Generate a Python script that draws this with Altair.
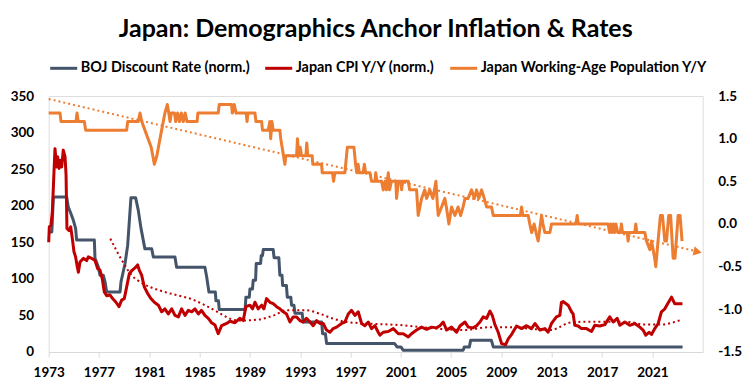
import altair as alt
import pandas as pd

TITLE = "Japan: Demographics Anchor Inflation & Rates"
NAMES = ["BOJ Discount Rate (norm.)", "Japan CPI Y/Y (norm.)", "Japan Working-Age Population Y/Y"]
COLORS = ["#44546A", "#C00000", "#ED7D31"]

x_ticks = [1973, 1977, 1981, 1985, 1989, 1993, 1997, 2001, 2005, 2009, 2013, 2017, 2021]
left_ticks = [0, 50, 100, 150, 200, 250, 300, 350]
right_ticks = [-1.5, -1.0, -0.5, 0.0, 0.5, 1.0, 1.5]

# BOJ discount rate (normalized, left axis)
boj_year = [1973.0, 1973.25, 1973.37, 1974.43, 1974.56, 1974.77, 1974.96, 1975.14, 1975.22, 1976.63,
            1976.68, 1976.95, 1977.08, 1977.34, 1977.48, 1977.61, 1978.67, 1978.75, 1979.07, 1979.28,
            1979.54, 1979.91, 1980.12, 1980.34, 1980.65, 1981.19, 1981.32, 1983.04, 1983.17, 1985.42,
            1985.56, 1985.74, 1986.25, 1986.3, 1986.5, 1986.56, 1988.62, 1988.68, 1988.95, 1989.0,
            1989.2, 1989.26, 1989.45, 1989.5, 1989.85, 1989.9, 1990.0, 1990.06, 1990.85, 1990.92,
            1991.3, 1991.38, 1991.55, 1991.6, 1991.9, 1991.97, 1992.25, 1992.31, 1992.5, 1992.58,
            1993.15, 1993.24, 1994.7, 1994.78, 1995.0, 1995.1, 2000.5, 2000.7, 2001.0, 2001.2,
            2005.95, 2006.05, 2006.45, 2006.55, 2008.2, 2008.35, 2023.4]
boj_val = [164, 164, 212, 212, 198, 189, 180, 169, 153, 153,
           128, 116, 105, 105, 96, 82, 82, 96, 121, 146,
           211, 211, 194, 169, 141, 141, 130, 130, 116, 116,
           103, 82, 82, 70, 70, 58, 58, 75, 75, 86,
           86, 98, 98, 121, 121, 132, 132, 140, 140, 129,
           129, 105, 105, 91, 91, 75, 75, 64, 64, 53,
           53, 41, 41, 25, 25, 11.5, 11.5, 7, 7, 2.3,
           2.3, 7, 7, 16, 16, 7, 7]

# Japan CPI Y/Y (normalized, left axis)
cpi_year = [1973.0, 1973.05, 1973.18, 1973.29, 1973.42, 1973.5, 1973.63, 1973.71, 1973.82, 1973.95,
            1974.03, 1974.16, 1974.3, 1974.38, 1974.45, 1974.61, 1974.75, 1974.88, 1975.01, 1975.14,
            1975.28, 1975.36, 1975.49, 1975.75, 1976.02, 1976.15, 1976.42, 1976.68, 1976.89, 1977.08,
            1977.26, 1977.42, 1977.61, 1977.87, 1978.08, 1978.35, 1978.59, 1978.8, 1979.01, 1979.2,
            1979.41, 1979.65, 1979.86, 1980.07, 1980.2, 1980.39, 1980.6, 1980.87, 1981.13, 1981.4,
            1981.72, 1981.98, 1982.24, 1982.51, 1982.78, 1983.04, 1983.31, 1983.57, 1983.84, 1984.1,
            1984.37, 1984.63, 1984.9, 1985.15, 1985.42, 1985.69, 1985.95, 1986.22, 1986.48, 1986.75,
            1987.15, 1987.41, 1987.81, 1988.2, 1988.47, 1988.68, 1989.0, 1989.21, 1989.4, 1989.66,
            1989.93, 1990.11, 1990.32, 1990.59, 1990.85, 1991.12, 1991.38, 1991.65, 1991.91, 1992.18,
            1992.44, 1992.71, 1992.97, 1993.24, 1993.5, 1993.77, 1994.03, 1994.3, 1994.56, 1994.83,
            1995.09, 1995.36, 1995.62, 1995.89, 1996.29, 1996.55, 1996.82, 1997.08, 1997.35, 1997.61,
            1997.88, 1998.14, 1998.41, 1998.67, 1998.94, 1999.2, 1999.34, 1999.6, 2000.0, 2000.4,
            2000.8, 2001.19, 2001.59, 2001.85, 2002.25, 2002.65, 2003.05, 2003.44, 2003.84, 2004.11,
            2004.37, 2004.64, 2005.03, 2005.43, 2005.7, 2006.1, 2006.36, 2006.76, 2007.02, 2007.29,
            2007.55, 2007.82, 2008.08, 2008.27, 2008.48, 2008.74, 2009.01, 2009.33, 2009.54, 2009.8,
            2010.2, 2010.6, 2011.0, 2011.39, 2011.66, 2012.06, 2012.45, 2012.71, 2012.98, 2013.37,
            2013.64, 2013.77, 2013.9, 2014.3, 2014.57, 2014.7, 2014.83, 2015.1, 2015.36, 2015.76,
            2016.16, 2016.42, 2016.82, 2017.22, 2017.61, 2017.88, 2018.2, 2018.41, 2018.81, 2019.2,
            2019.6, 2020.0, 2020.26, 2020.48, 2020.74, 2020.93, 2021.19, 2021.46, 2021.72, 2021.99,
            2022.25, 2022.52, 2022.78, 2023.05, 2023.39]
cpi_val = [150, 171, 173, 192, 246, 278, 253, 267, 251, 262,
           253, 276, 267, 242, 169, 166, 171, 155, 137, 130,
           116, 109, 123, 128, 125, 130, 128, 125, 114, 112,
           100, 82, 77, 78, 73, 68, 62, 71, 73, 89,
           107, 112, 115, 119, 112, 105, 89, 80, 73, 68,
           64, 55, 59, 52, 59, 50, 48, 59, 50, 57,
           55, 59, 52, 57, 50, 46, 40, 37, 25, 36,
           39, 42, 40, 46, 43, 62, 64, 59, 68, 59,
           64, 59, 73, 68, 66, 62, 59, 55, 52, 41,
           48, 48, 43, 41, 46, 41, 36, 43, 39, 39,
           30, 27, 32, 34, 39, 41, 52, 57, 50, 55,
           39, 36, 41, 32, 36, 27, 23, 27, 28, 32,
           25, 25, 20.6, 25, 30, 34, 31, 34, 33, 36,
           41, 30, 34, 27, 35.5, 41, 34, 33, 36, 41,
           48, 46, 56, 50, 37.5, 27, 11.4, 10, 18, 23.8,
           35.6, 32, 36, 32, 39, 30, 32, 27, 39, 48,
           50, 68, 69, 64, 55, 52, 36.5, 35.5, 32, 32,
           28, 36.5, 35.5, 37.5, 48, 41, 46, 36.5, 41, 36.5,
           39, 34, 30, 23, 27, 24, 32, 39, 55, 59,
           67, 75, 66, 66, 66]

# CPI moving-average trend (dotted, left axis)
cpi_trend_year = [1977.9, 1978.9, 1979.6, 1980.5, 1981.85, 1983.2, 1984.4, 1985.3, 1986.4, 1987.4,
                  1988.2, 1989.5, 1990.9, 1991.9, 1993.5, 1994.6, 1995.6, 1996.7, 1998.3, 2001.2,
                  2003.8, 2006.0, 2008.1, 2009.7, 2011.8, 2013.0, 2013.6, 2014.4, 2015.8, 2019.2,
                  2020.3, 2021.6, 2023.3]
cpi_trend_val = [155, 123, 105, 93.5, 84, 77.6, 72, 65, 55, 45.6,
                 43, 44, 50, 57, 57, 52, 45.6, 41, 39, 36.5,
                 32, 30, 34, 34, 31, 30, 34, 40, 41.5, 41,
                 37.5, 37.5, 44]

# Working-age population Y/Y (right axis)
pop_year = [1973.0, 1973.9, 1973.98, 1975.17, 1975.25, 1975.35, 1975.83, 1975.94, 1979.2, 1979.28,
            1980.12, 1980.26, 1980.4, 1980.65, 1980.9, 1981.15, 1981.4, 1981.6, 1981.85, 1981.98,
            1982.24, 1982.43, 1982.55, 1982.65, 1982.75, 1983.0, 1983.1, 1983.25, 1983.4, 1983.55,
            1983.7, 1983.85, 1984.0, 1984.8, 1984.86, 1986.48, 1986.56, 1987.54, 1987.6, 1987.75,
            1987.9, 1988.7, 1988.77, 1988.84, 1989.4, 1989.48, 1989.93, 1990.0, 1990.46, 1990.58,
            1990.65, 1990.75, 1990.85, 1991.38, 1991.45, 1991.78, 1991.85, 1992.71, 1992.78, 1992.88,
            1993.0, 1993.1, 1993.45, 1993.52, 1993.6, 1993.95, 1994.0, 1994.7, 1994.75, 1995.57,
            1995.65, 1995.75, 1996.55, 1996.68, 1996.75, 1997.27, 1997.4, 1997.5, 1997.6, 1997.7,
            1998.0, 1998.1, 1998.2, 1998.54, 1998.67, 1998.95, 1999.0, 1999.1, 1999.47, 1999.6,
            1999.75, 1999.85, 2000.0, 2000.1, 2000.25, 2000.6, 2000.66, 2000.8, 2001.0, 2001.06,
            2001.15, 2001.59, 2001.7, 2002.25, 2002.38, 2002.65, 2002.9, 2003.05, 2003.3, 2003.55,
            2003.79, 2003.87, 2003.97, 2004.24, 2004.5, 2004.62, 2004.82, 2005.03, 2005.3, 2005.55,
            2005.75, 2005.95, 2006.1, 2006.35, 2006.62, 2006.85, 2007.02, 2007.2, 2007.42, 2007.63,
            2007.82, 2008.21, 2008.35, 2010.5, 2010.6, 2010.7, 2011.13, 2011.25, 2011.4, 2011.6,
            2011.75, 2011.92, 2012.19, 2012.3, 2012.45, 2012.85, 2012.98, 2014.92, 2015.02, 2015.1,
            2017.48, 2017.6, 2017.7, 2017.8, 2017.9, 2018.0, 2018.1, 2018.25, 2018.45, 2018.54,
            2018.62, 2019.0, 2019.07, 2019.15, 2019.6, 2019.68, 2019.76, 2020.4, 2020.53, 2020.8,
            2020.93, 2021.06, 2021.18, 2021.27, 2021.45, 2021.64, 2021.8, 2021.99, 2022.12, 2022.3,
            2022.45, 2022.65, 2022.8, 2023.05, 2023.2, 2023.36]
pop_val = [1.3, 1.3, 1.2, 1.2, 1.3, 1.2, 1.2, 1.1, 1.1, 1.2,
           1.2, 1.3, 1.2, 1.1, 1.0, 0.9, 0.7, 0.8, 1.0, 1.1,
           1.3, 1.4, 1.3, 1.2, 1.3, 1.3, 1.2, 1.3, 1.2, 1.3,
           1.2, 1.3, 1.2, 1.2, 1.3, 1.3, 1.4, 1.4, 1.3, 1.4,
           1.3, 1.3, 1.2, 1.3, 1.3, 1.2, 1.2, 1.1, 1.1, 1.2,
           1.0, 1.2, 1.1, 1.1, 1.0, 0.7, 0.8, 0.8, 1.0, 0.8,
           0.9, 0.8, 0.8, 0.95, 0.8, 0.8, 0.7, 0.7, 0.6, 0.6,
           0.5, 0.6, 0.6, 0.8, 0.9, 0.9, 0.7, 0.6, 0.7, 0.6,
           0.6, 0.7, 0.6, 0.6, 0.5, 0.5, 0.6, 0.5, 0.5, 0.4,
           0.5, 0.4, 0.6, 0.4, 0.5, 0.5, 0.3, 0.5, 0.5, 0.4,
           0.5, 0.5, 0.4, 0.4, 0.1, 0.3, 0.4, 0.3, 0.4, 0.3,
           0.5, 0.3, 0.1, 0.2, 0.3, 0.2, 0.0, 0.2, 0.1, 0.2,
           0.1, 0.2, 0.3, 0.3, 0.4, 0.3, 0.4, 0.3, 0.4, 0.3,
           0.2, 0.2, 0.1, 0.1, 0.2, 0.1, 0.1, 0.0, -0.1, 0.0,
           -0.1, -0.2, 0.1, 0.0, -0.1, -0.1, 0.0, 0.0, 0.1, 0.0,
           0.0, -0.1, 0.0, -0.1, 0.0, -0.1, 0.0, -0.1, -0.1, 0.0,
           -0.1, -0.1, -0.2, -0.1, -0.1, 0.0, -0.1, -0.1, -0.2, -0.3,
           -0.2, -0.3, -0.4, -0.5, -0.2, 0.1, 0.1, -0.2, -0.2, 0.1,
           0.1, -0.4, -0.4, 0.1, 0.1, -0.2]

# Linear trend of the population series (dotted, right axis) and its arrow head
pop_trend_year = [1973.0, 2024.5]
pop_trend_val = [1.465, -0.32]
arrow_year = [2024.6]
arrow_val = [-0.325]

boj_df = pd.DataFrame({"year": boj_year, "value": boj_val, "series": NAMES[0]})
cpi_df = pd.DataFrame({"year": cpi_year, "value": cpi_val, "series": NAMES[1]})
cpi_tr_df = pd.DataFrame({"year": cpi_trend_year, "value": cpi_trend_val})
pop_df = pd.DataFrame({"year": pop_year, "value": pop_val, "series": NAMES[2]})
pop_tr_df = pd.DataFrame({"year": pop_trend_year, "value": pop_trend_val})
arrow_df = pd.DataFrame({"year": arrow_year, "value": arrow_val})

FONT = "Lato"
x_enc = alt.X("year:Q", scale=alt.Scale(domain=[1973, 2025], nice=False, zero=False),
              axis=alt.Axis(values=x_ticks, format="d", title=None, grid=False,
                            domainColor="#D9D9D9", tickColor="#D9D9D9", tickSize=5,
                            labelFont=FONT, labelFontWeight="bold", labelFontSize=13.5,
                            labelColor="black", labelPadding=9, labelFlush=False))

left_scale = alt.Scale(domain=[0, 350], nice=False, zero=False)
right_scale = alt.Scale(domain=[-1.5, 1.5], nice=False, zero=False)

left_axis = alt.Axis(values=left_ticks, title=None, grid=False, domain=False, ticks=False,
                     tickSize=0, labelPadding=15, labelFont=FONT, labelFontWeight="bold",
                     labelFontSize=13.5, labelColor="black")
right_axis = alt.Axis(values=right_ticks, title=None, grid=False, domain=False, ticks=False,
                      tickSize=0, labelPadding=15, orient="right", labelFont=FONT,
                      labelFontWeight="bold", labelFontSize=13.5, labelColor="black",
                      labelExpr="(datum.value < 0 ? '-' : '') + format(abs(datum.value), '.1f')")

color_enc = alt.Color("series:N",
                      scale=alt.Scale(domain=NAMES, range=COLORS),
                      legend=alt.Legend(title=None, orient="none", legendX=0, legendY=-43,
                                        direction="horizontal", symbolType="stroke",
                                        symbolStrokeWidth=3, symbolSize=729,
                                        labelFont=FONT, labelFontWeight="bold",
                                        labelFontSize=14.4, labelColor="black",
                                        labelOffset=2, columnPadding=8, labelLimit=400))

line_props = dict(strokeWidth=3, strokeJoin="round")

boj = alt.Chart(boj_df).mark_line(**line_props).encode(
    x=x_enc, y=alt.Y("value:Q", scale=left_scale, axis=left_axis), color=color_enc)
cpi = alt.Chart(cpi_df).mark_line(**line_props).encode(
    x=x_enc, y=alt.Y("value:Q", scale=left_scale, axis=left_axis), color=color_enc)
cpi_tr = alt.Chart(cpi_tr_df).mark_line(color="#C00000", strokeWidth=2, strokeDash=[2, 3],
                                        interpolate="monotone").encode(
    x=x_enc, y=alt.Y("value:Q", scale=left_scale, axis=left_axis))

pop = alt.Chart(pop_df).mark_line(**line_props).encode(
    x=x_enc, y=alt.Y("value:Q", scale=right_scale, axis=right_axis), color=color_enc)
pop_tr = alt.Chart(pop_tr_df).mark_line(color="#ED7D31", strokeWidth=2, strokeDash=[2, 3]).encode(
    x=x_enc, y=alt.Y("value:Q", scale=right_scale, axis=right_axis))
arrow = alt.Chart(arrow_df).mark_point(shape="triangle-right", filled=True, color="#ED7D31",
                                       opacity=1, size=90, angle=13).encode(
    x=x_enc, y=alt.Y("value:Q", scale=right_scale, axis=right_axis))

left = alt.layer(boj, cpi, cpi_tr)
right = alt.layer(pop, pop_tr, arrow)

chart = alt.layer(left, right).resolve_scale(y="independent").properties(
    width=654, height=256,
    title=alt.TitleParams(TITLE, font=FONT, fontSize=25, fontWeight="bold", color="black",
                          anchor="middle", baseline="alphabetic", offset=-9),
    autosize=alt.AutoSizeParams(type="none"),
    padding={"left": 40.7, "top": 88, "right": 40, "bottom": 30},
).configure_view(stroke=None).configure(background="white")

chart.save("out.html", embed_options={"renderer": "svg", "actions": False})
